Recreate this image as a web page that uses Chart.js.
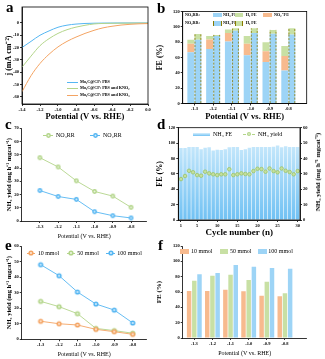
<!DOCTYPE html>
<html>
<head>
<meta charset="utf-8">
<title>Electrochemical nitrate / nitrite reduction</title>
<script src="https://cdn.jsdelivr.net/npm/chart.js@4.4.1/dist/chart.umd.min.js"></script>
<style>
  html, body { margin: 0; padding: 0; background: #fff; }
  #fig { position: relative; width: 325px; height: 359px; overflow: hidden; font-family: 'Liberation Serif', serif; color: #000; }
  #fig canvas, #fig .leg, #fig .tag, #fig .mark { position: absolute; }
  .tag { font: bold 15px/15px 'Liberation Serif', serif; }
  .leg { white-space: nowrap; }
</style>
</head>
<body>
<div id="fig">
  <canvas id="cvA" width="162" height="124" style="left:0;top:0"></canvas>
  <canvas id="cvB" width="170" height="124" style="left:155px;top:0"></canvas>
  <canvas id="cvC" width="162" height="120" style="left:0;top:120px"></canvas>
  <canvas id="cvD" width="170" height="122" style="left:155px;top:120px"></canvas>
  <canvas id="cvE" width="162" height="119" style="left:0;top:240px"></canvas>
  <canvas id="cvF" width="170" height="119" style="left:155px;top:240px"></canvas>
</div>
<script>
// ---- (a) LSV curves, j vs potential --------------------------
var lsvPotential = [-1.4, -1.3, -1.2, -1.1, -1.0, -0.9, -0.8, -0.7, -0.6, -0.5, -0.4, -0.3, -0.2, -0.1, 0.0];
var lsvPbs     = [-20, -15, -10, -6.5, -3.5, -1.8, -0.9, -0.4, -0.2, -0.1, -0.05, 0, 0, 0, 0];
var lsvNitrite = [-36, -27, -18.5, -12.8, -8.5, -5.5, -3.4, -1.9, -0.8, -0.4, -0.25, -0.2, -0.15, -0.1, -0.1];
var lsvNitrate = [-56, -43, -33, -25.5, -19.5, -15, -11.5, -8.5, -6, -4, -2.7, -1.7, -1.1, -0.7, -0.5];

// ---- potentials shared by b, c, e, f -------------------------
var potentials = ['-1.3', '-1.2', '-1.1', '-1.0', '-0.9', '-0.8'];

// ---- (b) faradaic efficiencies -------------------------------
var no3NH3FE = [67, 71, 81, 63, 54, 43];
var no3NO2FE = [11, 12.5, 11, 15, 14, 19];
var no3H2FE  = [5, 4.5, 4.5, 10, 12, 13];
var no2NH3FE = [83, 88, 95, 92, 91, 90];
var no2H2FE  = [7.5, 1.5, 3, 6, 5, 8];

// ---- (c) NH3 yield, nitrate vs nitrite -----------------------
var no3Yield = [47.8, 40.8, 30.3, 22.3, 18.8, 10.3];
var no2Yield = [23, 18.5, 16.3, 7, 4, 2.3];

// ---- (d) cycling test ----------------------------------------
var cycles = [1, 2, 3, 4, 5, 6, 7, 8, 9, 10, 11, 12, 13, 14, 15, 16, 17, 18, 19, 20, 21, 22, 23, 24, 25, 26, 27, 28, 29, 30];
var cycleTicks = [1, 5, 10, 15, 20, 25, 30];
var cycleFE = [93.5, 93.5, 95, 95, 95, 92, 94, 94.5, 90.5, 91.3, 91, 92, 94.5, 95, 95,
               91, 92, 94, 95, 95, 95, 95, 95, 95.2, 97, 94.5, 96, 95, 95, 95];
var cycleYield = [26.6, 28.6, 32, 31, 29.2, 28.8, 31.4, 30.3, 29.7, 29.2, 29.7, 29.7, 33, 29.2, 29.7,
                  30.3, 29.9, 29.7, 31.8, 33.3, 33.1, 31.4, 33.5, 31.8, 31, 33.5, 32, 31.2, 29.7, 31.8];

// ---- (e) NH3 yield vs nitrate concentration ------------------
var yield10  = [11.6, 10, 9.2, 6.4, 4.9, 3.2];
var yield50  = [24.4, 21, 16.5, 7, 5.6, 3.9];
var yield100 = [48, 40.9, 30.4, 22.7, 18.8, 10.5];

// ---- (f) NH3 FE vs nitrate concentration ---------------------
var fe10  = [61.3, 61.3, 63, 61, 55, 54.5];
var fe50  = [74.8, 81.3, 82.6, 75.6, 73.5, 58.3];
var fe100 = [83, 84.8, 95.2, 93, 91.3, 90.4];

// ---- colours --------------------------------------------------
var BLUE = '#55b6f2', GREEN = '#b3d58a', ORANGE = '#f4a463';
var BAR_BLUE = '#9dd4f6', BAR_GREEN = '#c8e0a4', BAR_ORANGE = '#f7ba8e';
var SERIF = "'Liberation Serif', serif";

Chart.defaults.font.family = SERIF;
Chart.defaults.color = '#000';

var TICK_FONT = { family: SERIF, size: 4.5, weight: 'bold' };

function xy(xs, ys) {
  return ys.map(function (v, i) { return { x: xs[i], y: v }; });
}
function byIndex(ys) {
  return ys.map(function (v, i) { return { x: i + 1, y: v }; });
}

function axisTitle(text, size, bold, pad) {
  return {
    display: true, text: text, color: '#000',
    font: { family: SERIF, size: size, weight: bold ? 'bold' : 'normal', lineHeight: 1.2 },
    padding: pad
  };
}

function gridOpts() {
  return { drawOnChartArea: false, tickLength: 2, color: '#000', lineWidth: 0.8 };
}

function valueAxis(o) {
  return {
    type: 'linear', position: o.position || 'left', min: o.min, max: o.max,
    ticks: {
      stepSize: o.step, includeBounds: false, font: TICK_FONT, color: '#000', padding: 1,
      callback: o.callback || function (v) { return v; }
    },
    grid: gridOpts(),
    border: { color: '#000', width: 0.8 },
    title: o.title || { display: false },
    afterFit: function (s) { s.width = o.width; }
  };
}

// potential axis: linear, one unit per potential, labels from the list
function potentialAxis(min, max, height, title) {
  return {
    type: 'linear', min: min, max: max, offset: false,
    afterBuildTicks: function (s) {
      s.ticks = potentials.map(function (p, i) { return { value: i + 1 }; });
    },
    ticks: {
      font: TICK_FONT, color: '#000', padding: 1, autoSkip: false, maxRotation: 0,
      callback: function (v) { return potentials[v - 1]; }
    },
    grid: Object.assign(gridOpts(), { offset: false }),
    border: { color: '#000', width: 0.8 },
    title: title,
    afterFit: function (s) { s.height = height; }
  };
}

function baseOptions(padding, scales) {
  return {
    responsive: false, animation: false,
    layout: { padding: padding },
    plugins: { legend: { display: false }, tooltip: { enabled: false } },
    scales: scales
  };
}

// closed frame around the plotting area
var framePlugin = {
  id: 'frame',
  afterDraw: function (chart) {
    var a = chart.chartArea, ctx = chart.ctx;
    ctx.save();
    ctx.strokeStyle = '#000';
    ctx.lineWidth = 0.8;
    ctx.strokeRect(a.left, a.top, a.right - a.left, a.bottom - a.top);
    ctx.restore();
  }
};

// dashed olive edges on the nitrite-reduction bars
var dashPlugin = {
  id: 'dashEdges',
  afterDatasetsDraw: function (chart) {
    var ctx = chart.ctx;
    chart.data.datasets.forEach(function (ds, i) {
      if (ds.stack !== 'no2') return;
      chart.getDatasetMeta(i).data.forEach(function (bar) {
        var p = bar.getProps(['x', 'y', 'base', 'width'], true);
        ctx.save();
        ctx.setLineDash([2, 1.5]);
        ctx.strokeStyle = '#8a7a00';
        ctx.lineWidth = 0.8;
        ctx.beginPath();
        ctx.moveTo(p.x - p.width / 2 + 0.5, p.base);
        ctx.lineTo(p.x - p.width / 2 + 0.5, p.y);
        ctx.moveTo(p.x + p.width / 2 - 0.5, p.base);
        ctx.lineTo(p.x + p.width / 2 - 0.5, p.y);
        ctx.stroke();
        ctx.restore();
      });
    });
  }
};

// round marker with a light centre
function dotMarker(color, r) {
  var c = document.createElement('canvas');
  var s = Math.ceil(r * 2 + 2);
  c.width = c.height = s;
  var g = c.getContext('2d');
  g.fillStyle = color;
  g.beginPath(); g.arc(s / 2, s / 2, r, 0, Math.PI * 2); g.fill();
  g.fillStyle = 'rgba(255,255,255,0.75)';
  g.beginPath(); g.arc(s / 2, s / 2, r * 0.4, 0, Math.PI * 2); g.fill();
  return c;
}

// ---- (a) -------------------------------------------------------
function lsvSet(data, color) {
  return {
    data: xy(lsvPotential, data), borderColor: color, borderWidth: 1,
    pointRadius: 0, cubicInterpolationMode: 'monotone', fill: false
  };
}
new Chart(document.getElementById('cvA'), {
  type: 'line',
  data: { datasets: [lsvSet(lsvNitrate, ORANGE), lsvSet(lsvNitrite, GREEN), lsvSet(lsvPbs, BLUE)] },
  options: baseOptions({ top: 7, right: 14 }, {
    x: {
      type: 'linear', min: -1.4, max: 0,
      ticks: {
        stepSize: 0.2, font: TICK_FONT, color: '#000', padding: 1, autoSkip: false, maxRotation: 0,
        callback: function (v) { var r = Math.round(v * 10) / 10; return Math.abs(r) < 1e-9 ? '0.0' : r.toFixed(1); }
      },
      grid: gridOpts(), border: { color: '#000', width: 0.8 },
      title: axisTitle('Potential (V vs. RHE)', 8.5, true, { top: 0, bottom: 2 }),
      afterFit: function (s) { s.height = 20; }
    },
    y: valueAxis({
      min: -66, max: 13, step: 10, width: 22,
      callback: function (v) { return v > 0 ? null : v; },
      title: axisTitle('j (mA cm⁻²)', 8, true, { top: 4, bottom: 0 })
    })
  }),
  plugins: [framePlugin]
});

// ---- (b) -------------------------------------------------------
function feSet(data, color, stack) {
  return {
    data: byIndex(data), backgroundColor: color, stack: stack,
    categoryPercentage: 0.76, barPercentage: 0.96
  };
}
new Chart(document.getElementById('cvB'), {
  type: 'bar',
  data: {
    datasets: [
      feSet(no3NH3FE, BAR_BLUE, 'no3'), feSet(no3NO2FE, BAR_ORANGE, 'no3'), feSet(no3H2FE, BAR_GREEN, 'no3'),
      feSet(no2NH3FE, BAR_BLUE, 'no2'), feSet(no2H2FE, BAR_GREEN, 'no2')
    ]
  },
  options: baseOptions({ top: 11.5, right: 18.3 }, {
    x: potentialAxis(0.38, 6.98, 20.5, axisTitle('Potential (V vs. RHE)', 8.5, true, { top: 0, bottom: 2 })),
    y: Object.assign(valueAxis({
      min: 0, max: 120, step: 20, width: 27.7,
      title: axisTitle('FE (%)', 8, true, { top: 0, bottom: 0 })
    }), { stacked: true })
  }),
  plugins: [dashPlugin, framePlugin]
});

// ---- (c) -------------------------------------------------------
function yieldSet(data, color, r) {
  return {
    data: byIndex(data), borderColor: color, borderWidth: 0.9,
    pointStyle: dotMarker(color, r), fill: false, tension: 0
  };
}
new Chart(document.getElementById('cvC'), {
  type: 'line',
  data: { datasets: [yieldSet(no3Yield, GREEN, 2.4), yieldSet(no2Yield, BLUE, 2.4)] },
  options: baseOptions({ top: 8.3, right: 15.3 }, {
    x: potentialAxis(0, 6.86, 19, axisTitle('Potential (V vs. RHE)', 6, false, { top: 0, bottom: 0.4 })),
    y: valueAxis({
      min: 0, max: 70, step: 10, width: 21.7,
      title: axisTitle('NH₃ yield (mg h⁻¹ mgcat⁻¹)', 6.5, true, { top: 5, bottom: 0 })
    })
  })
});

// ---- (d) -------------------------------------------------------
new Chart(document.getElementById('cvD'), {
  type: 'bar',
  data: {
    datasets: [
      {
        type: 'line', data: xy(cycles, cycleYield), yAxisID: 'y2', showLine: false,
        pointStyle: 'circle', pointRadius: 1.8, borderWidth: 0.8,
        pointBackgroundColor: '#c4df9e', pointBorderColor: '#9cc468'
      },
      {
        data: xy(cycles, cycleFE), yAxisID: 'y',
        categoryPercentage: 1, barPercentage: 0.86,
        backgroundColor: function (ctx) {
          var ca = ctx.chart.chartArea;
          if (!ca) return BAR_BLUE;
          var g = ctx.chart.ctx.createLinearGradient(0, ca.top, 0, ca.bottom);
          g.addColorStop(0, '#d9f0fd');
          g.addColorStop(1, '#70c1f3');
          return g;
        }
      }
    ]
  },
  options: baseOptions({ top: 7.7 }, {
    x: {
      type: 'linear', min: 0.33, max: 30.57, offset: false,
      afterBuildTicks: function (s) { s.ticks = cycleTicks.map(function (c) { return { value: c }; }); },
      ticks: { font: TICK_FONT, color: '#000', padding: 1, autoSkip: false, maxRotation: 0 },
      grid: Object.assign(gridOpts(), { offset: false }), border: { color: '#000', width: 0.8 },
      title: axisTitle('Cycle number (n)', 9, true, { top: 0, bottom: 3.6 }),
      afterFit: function (s) { s.height = 22; }
    },
    y: valueAxis({
      min: 0, max: 120, step: 20, width: 23.3,
      title: axisTitle('FE (%)', 8, true, { top: 0, bottom: 0 })
    }),
    y2: valueAxis({ position: 'right', min: 0, max: 60, step: 10, width: 25 })
  }),
  plugins: [framePlugin]
});

// ---- (e) -------------------------------------------------------
new Chart(document.getElementById('cvE'), {
  type: 'line',
  data: { datasets: [yieldSet(yield10, ORANGE, 2.6), yieldSet(yield50, GREEN, 2.6), yieldSet(yield100, BLUE, 2.6)] },
  options: baseOptions({ top: 6, right: 15.3 }, {
    x: potentialAxis(-0.03, 6.76, 19.7, axisTitle('Potential (V vs. RHE)', 6, false, { top: 0, bottom: 1.4 })),
    y: valueAxis({
      min: 0, max: 60, step: 10, width: 21.7,
      title: axisTitle('NH₃ yield (mg h⁻¹ mgcat⁻¹)', 6.5, true, { top: 5, bottom: 0 })
    })
  })
});

// ---- (f) -------------------------------------------------------
function concSet(data, color) {
  return { data: byIndex(data), backgroundColor: color, categoryPercentage: 0.86, barPercentage: 0.86 };
}
new Chart(document.getElementById('cvF'), {
  type: 'bar',
  data: { datasets: [concSet(fe10, BAR_ORANGE), concSet(fe50, BAR_GREEN), concSet(fe100, BAR_BLUE)] },
  options: baseOptions({ top: 6, right: 18.3 }, {
    x: potentialAxis(0.36, 7.2, 21, axisTitle('Potential (V vs. RHE)', 6, false, { top: 0, bottom: 2.4 })),
    y: valueAxis({
      min: 0, max: 120, step: 20, width: 27.7,
      title: axisTitle('FE (%)', 7, true, { top: 0, bottom: 0 })
    })
  })
});

// ---- legends, panel tags, right-hand title (HTML) --------------
var fig = document.getElementById('fig');

function legText(x, y, txt, size, bold) {
  var el = document.createElement('span');
  el.className = 'leg';
  el.textContent = txt;
  el.style.left = x + 'px';
  el.style.top = (y - size * 0.58) + 'px';
  el.style.fontSize = size + 'px';
  el.style.lineHeight = size + 'px';
  if (bold) el.style.fontWeight = 'bold';
  fig.appendChild(el);
}
function legBox(x, y, w, h, fill, dashed) {
  var el = document.createElement('div');
  el.className = 'mark';
  el.style.left = x + 'px';
  el.style.top = (y - h / 2) + 'px';
  el.style.width = w + 'px';
  el.style.height = h + 'px';
  el.style.background = fill;
  if (dashed) {
    el.style.borderLeft = '0.8px dashed #8a7a00';
    el.style.borderRight = '0.8px dashed #8a7a00';
    el.style.boxSizing = 'border-box';
  }
  fig.appendChild(el);
}
function legLine(x1, x2, y, color, dashed) {
  var el = document.createElement('div');
  el.className = 'mark';
  el.style.left = x1 + 'px';
  el.style.top = (y - 0.5) + 'px';
  el.style.width = (x2 - x1) + 'px';
  el.style.borderTop = '1px ' + (dashed ? 'dashed ' : 'solid ') + color;
  fig.appendChild(el);
}
function legDot(x, y, color, r) {
  var c = dotMarker(color, r);
  c.style.left = (x - c.width / 2) + 'px';
  c.style.top = (y - c.height / 2) + 'px';
  fig.appendChild(c);
}
function tag(x, top, letter) {
  var el = document.createElement('span');
  el.className = 'tag';
  el.textContent = letter;
  el.style.left = x + 'px';
  el.style.top = top + 'px';
  fig.appendChild(el);
}

// (a)
[[82.7, BLUE, 'Mo₂C@CP: PBS'], [88.7, GREEN, 'Mo₂C@CP: PBS and KNO₂'], [95.3, ORANGE, 'Mo₂C@CP: PBS and KNO₃']]
  .forEach(function (r) { legLine(66.7, 78.3, r[0], r[1]); legText(80, r[0], r[2], 4.2, true); });

// (b)
legText(185, 15, 'NO₃RR:', 4.2, true);
legBox(212.7, 15, 9, 4.5, BAR_BLUE); legText(223, 15, 'NH₃ FE', 4.2, true);
legBox(235, 15, 8, 4.5, BAR_GREEN); legText(245.7, 15, 'H₂ FE', 4.2, true);
legBox(263, 15, 9, 4.5, BAR_ORANGE); legText(274, 15, 'NO₂⁻ FE', 4.2, true);
legText(185, 23.3, 'NO₂RR:', 4.2, true);
legBox(212.7, 23.3, 9, 4.5, BAR_BLUE, true); legText(223, 23.3, 'NH₃ FE', 4.2, true);
legBox(235, 23.3, 8, 4.5, BAR_GREEN, true); legText(245.7, 23.3, 'H₂ FE', 4.2, true);

// (c)
legLine(43, 53, 135.7, GREEN, true); legDot(48, 135.7, GREEN, 2.4); legText(56, 135.7, 'NO₃RR', 6);
legLine(90, 100, 135.7, BLUE, true); legDot(95, 135.7, BLUE, 2.4); legText(103, 135.7, 'NO₂RR', 6);

// (d)
legBox(193, 134.3, 17, 3.5, 'linear-gradient(#d9f0fd, #70c1f3)'); legText(213, 134.3, 'NH₃ FE', 6);
legLine(243, 255, 134.3, GREEN, true); legDot(249, 134.3, '#b3d58a', 2); legText(258, 134.3, 'NH₃ yield', 6);

// (e)
legLine(27, 35, 253.3, ORANGE); legDot(31, 253.3, ORANGE, 2.6); legText(37.7, 253.3, '10 mmol', 6);
legLine(66.7, 75, 253.3, GREEN); legDot(71, 253.3, GREEN, 2.6); legText(77.3, 253.3, '50 mmol', 6);
legLine(106, 115, 253.3, BLUE); legDot(110.5, 253.3, BLUE, 2.6); legText(117.3, 253.3, '100 mmol', 6);

// (f)
legBox(180, 251.7, 9.3, 5, BAR_ORANGE); legText(191, 251.7, '10 mmol', 6);
legBox(220, 251.7, 8, 5, BAR_GREEN); legText(230, 251.7, '50 mmol', 6);
legBox(258.3, 251.7, 8.4, 5, BAR_BLUE); legText(268.3, 251.7, '100 mmol', 6);

// right-hand title of (d), reading bottom to top
var rt = document.createElement('span');
rt.className = 'leg';
rt.textContent = 'NH₃ yield (mg h⁻¹ mgcat⁻¹)';
rt.style.font = 'bold 7px/8px ' + SERIF;
rt.style.left = '318px';
rt.style.top = '172px';
rt.style.transform = 'translate(-50%, -50%) rotate(-90deg)';
fig.appendChild(rt);

tag(6, 0, 'a'); tag(157, 1, 'b'); tag(5, 117, 'c'); tag(157, 117, 'd'); tag(5, 238, 'e'); tag(158, 238, 'f');
</script>
</body>
</html>
